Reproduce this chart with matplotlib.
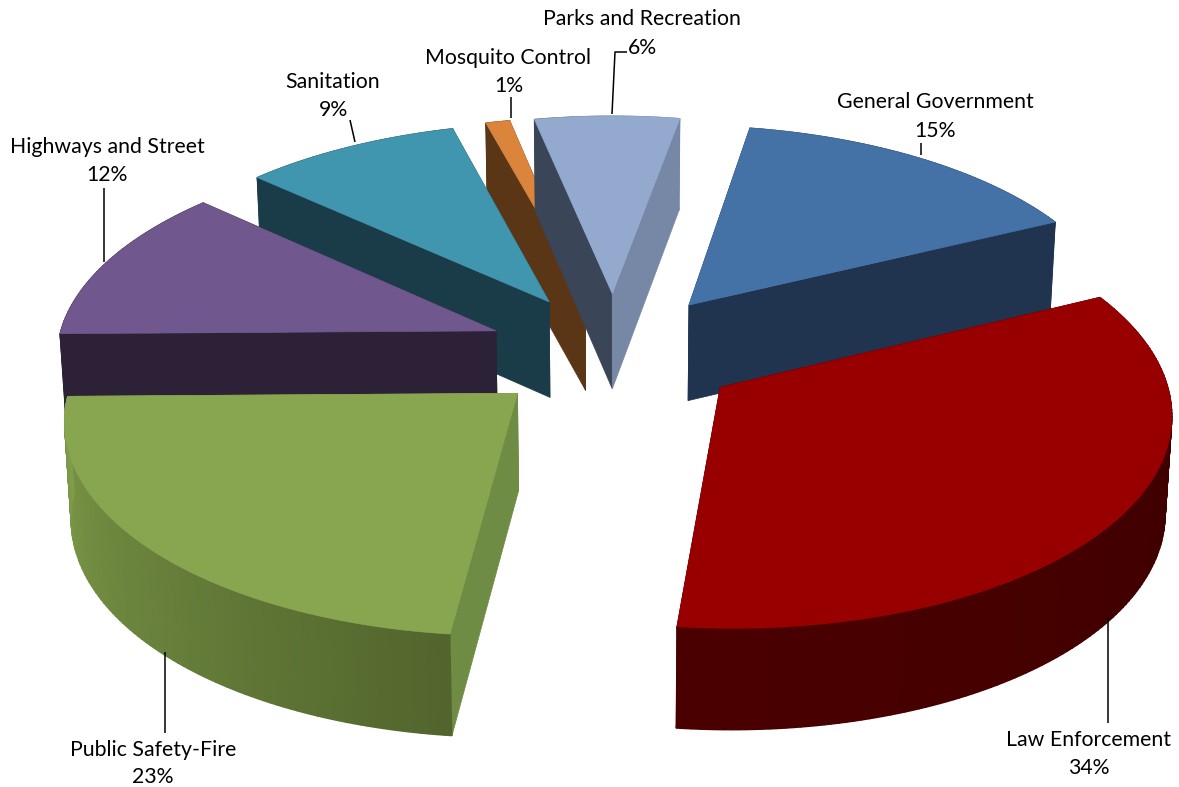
import numpy as np
import matplotlib
matplotlib.use("Agg")
import matplotlib.pyplot as plt
from matplotlib.colors import LinearSegmentedColormap
from matplotlib.patches import Polygon

# --- Fund shares, clockwise from the first slice ---
names = ["General Government", "Law Enforcement", "Public Safety-Fire",
         "Highways and Street", "Sanitation", "Mosquito Control",
         "Parks and Recreation"]
shares = [15, 34, 23, 12, 9, 1, 6]

top_colors = ["#4472a6", "#980000", "#88a550", "#70588e", "#4096ae", "#db843c", "#93a9ce"]
# outer wall colour at the start and at the end of each arc
wall_start = ["#20344f", "#3b0000", "#52652d", "#2c2137", "#1a3c48", "#5a3516", "#3a4558"]
wall_end = ["#20344f", "#4b0000", "#7f9d4a", "#2c2137", "#1a3c48", "#5a3516", "#7688a6"]
# cut faces: the one on the first radius and the one on the last radius
cut_first = ["#20344f", "#3b0000", "#6f8c44", "#2c2137", "#1a3c48", "#5a3516", "#3a4558"]
cut_last = ["#20344f", "#3b0000", "#6f8c44", "#2c2137", "#1a3c48", "#5a3516", "#7688a6"]

draw_order = [5, 6, 0, 4, 3, 2, 1]

# --- Projection settings, in pixels of the output ---
first_angle = 10.0
center = (614, 352)
radius = 440
explode = 0.29
tilt = 0.472
persp = 0.105
depth = 96.5
taper = 0.012

label_xy = {
    "General Government": (935, 102), "Law Enforcement": (1089, 740),
    "Public Safety-Fire": (153, 750), "Highways and Street": (107, 147),
    "Sanitation": (333, 82), "Mosquito Control": (508, 58),
    "Parks and Recreation": (642, 19),
}
pct_xy = {
    "General Government": (935, 131), "Law Enforcement": (1089, 768),
    "Public Safety-Fire": (153, 777), "Highways and Street": (107, 175),
    "Sanitation": (333, 110), "Mosquito Control": (509, 86),
    "Parks and Recreation": (642, 48),
}
leaders = [
    [(612, 114), (615, 52), (627, 52)],
    [(511, 118), (511, 97)],
    [(355, 142), (350, 120)],
    [(104, 262), (104, 188)],
    [(921, 155), (921, 143)],
    [(1108, 617), (1108, 723)],
    [(165, 652), (165, 733)],
]


def project(x, y, z=0.0):
    # x right, y away from the viewer (radius units), z = 1 at the bottom of the disc
    s = 1.0 / (1.0 + persp * y)
    sx = center[0] + x * radius * s * (1 - taper * z)
    sy = center[1] - y * radius * tilt * s + z * depth * s ** 0.4
    return np.column_stack([np.atleast_1d(sx), np.atleast_1d(sy)])


fig = plt.figure(figsize=(11.79, 7.87), dpi=100)
ax = fig.add_axes([0, 0, 1, 1])
ax.set_xlim(0, 1179)
ax.set_ylim(787, 0)
ax.axis("off")

bounds = first_angle + np.concatenate([[0], np.cumsum(shares)]) * 3.6

for n, i in enumerate(draw_order):
    z = 1 + n * 3
    a0, a1 = np.radians(bounds[i]), np.radians(bounds[i + 1])
    mid = (a0 + a1) / 2
    ox, oy = explode * np.sin(mid), explode * np.cos(mid)
    theta = np.linspace(a0, a1, max(shares[i] * 4, 8))
    rim_x, rim_y = ox + np.sin(theta), oy + np.cos(theta)

    apex_top = project(ox, oy, 0)
    apex_bot = project(ox, oy, 1)
    rim_top = project(rim_x, rim_y, 0)
    rim_bot = project(rim_x, rim_y, 1)

    # back slices show their cut faces over the wall, front slices the other way round
    wall_z = z if np.cos(mid) > 0 else z + 1
    cut_z = z + 1 if np.cos(mid) > 0 else z

    # outer wall, shaded along the arc
    grid_x = np.vstack([rim_top[:, 0], rim_bot[:, 0]])
    grid_y = np.vstack([rim_top[:, 1], rim_bot[:, 1]])
    shade = np.tile(np.linspace(0, 1, len(theta)), (2, 1))
    cmap = LinearSegmentedColormap.from_list(f"wall{i}", [wall_start[i], wall_end[i]])
    ax.pcolormesh(grid_x, grid_y, shade, shading="gouraud", cmap=cmap, vmin=0, vmax=1, zorder=wall_z)

    first = np.vstack([apex_top, rim_top[0], rim_bot[0], apex_bot])
    last = np.vstack([apex_top, rim_top[-1], rim_bot[-1], apex_bot])
    ax.add_patch(Polygon(first, closed=True, fc=cut_first[i], ec=cut_first[i], lw=0.5, zorder=cut_z))
    ax.add_patch(Polygon(last, closed=True, fc=cut_last[i], ec=cut_last[i], lw=0.5, zorder=cut_z))

    top = np.vstack([apex_top, rim_top])
    ax.add_patch(Polygon(top, closed=True, fc=top_colors[i], ec=top_colors[i], lw=0.5, zorder=z + 2))

# --- Labels and leader lines ---
for pts in leaders:
    xs, ys = zip(*pts)
    ax.plot(xs, ys, color="black", lw=1.1, zorder=40, solid_capstyle="butt")

for name, share in zip(names, shares):
    ax.text(*label_xy[name], name, ha="center", va="center", fontsize=15.3,
            family="Lato", color="black", zorder=41)
    ax.text(*pct_xy[name], f"{share}%", ha="center", va="center", fontsize=15.3,
            family="Lato", color="black", zorder=41)

fig.savefig("out.png", dpi=100)
